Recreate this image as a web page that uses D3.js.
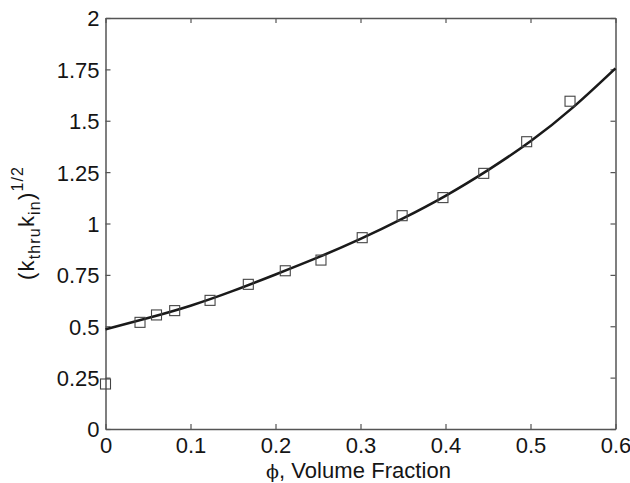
<!DOCTYPE html>
<html>
<head>
<meta charset="utf-8">
<script src="https://cdn.jsdelivr.net/npm/d3@7"></script>
<style>
  body { margin: 0; background: #fff; }
  text { font-family: "Liberation Sans", Arial, sans-serif; fill: #151515; }
</style>
</head>
<body>
<div id="chart"></div>
<script>
// measured points
const phi = [0, 0.0406, 0.060, 0.0814, 0.123, 0.168, 0.2115, 0.2535, 0.302, 0.349, 0.397, 0.445, 0.4955, 0.5465]
const kval = [0.219, 0.519, 0.555, 0.576, 0.626, 0.704, 0.770, 0.822, 0.931, 1.038, 1.126, 1.244, 1.398, 1.595]

// fitted curve
const fitX = [0, 0.05, 0.1, 0.15, 0.2, 0.25, 0.3, 0.35, 0.4, 0.45, 0.5, 0.55, 0.6]
const fitY = [0.485, 0.54, 0.60, 0.672, 0.752, 0.835, 0.925, 1.025, 1.135, 1.26, 1.40, 1.565, 1.755]

const xTicks = [0, 0.1, 0.2, 0.3, 0.4, 0.5, 0.6]
const yTicks = [0, 0.25, 0.5, 0.75, 1, 1.25, 1.5, 1.75, 2]

const width = 630
const height = 483
const margin = { left: 105.5, right: 14.5, top: 18, bottom: 54 }

const svg = d3.select("#chart").append("svg")
  .attr("width", width)
  .attr("height", height)

const x = d3.scaleLinear().domain([0, 0.6]).range([margin.left, width - margin.right])
const y = d3.scaleLinear().domain([0, 2]).range([height - margin.bottom, margin.top])

const fmt = d => d === 0 ? "0" : String(d)
const axisColor = "#555"

// bottom / left axes with labels, ticks pointing inward
const xAxis = svg.append("g")
  .attr("transform", "translate(0," + y(0) + ")")
  .call(d3.axisBottom(x).tickValues(xTicks).tickFormat(fmt).tickSizeInner(-5).tickSizeOuter(0).tickPadding(8))
const yAxis = svg.append("g")
  .attr("transform", "translate(" + x(0) + ",0)")
  .call(d3.axisLeft(y).tickValues(yTicks).tickFormat(fmt).tickSizeInner(-5).tickSizeOuter(0).tickPadding(6))
// mirrored top / right ticks
const xTop = svg.append("g")
  .attr("transform", "translate(0," + y(2) + ")")
  .call(d3.axisTop(x).tickValues(xTicks).tickFormat("").tickSizeInner(-5).tickSizeOuter(0))
const yRight = svg.append("g")
  .attr("transform", "translate(" + x(0.6) + ",0)")
  .call(d3.axisRight(y).tickValues(yTicks).tickFormat("").tickSizeInner(-5).tickSizeOuter(0))

;[xAxis, yAxis, xTop, yRight].forEach(g => {
  g.select(".domain").attr("stroke", axisColor).attr("stroke-width", 1.5)
  g.selectAll(".tick line").attr("stroke", axisColor).attr("stroke-width", 1.2)
  g.selectAll("text")
    .style("font-family", "'Liberation Sans', Arial, sans-serif")
    .style("font-size", "22px")
    .attr("fill", "#151515")
})
yAxis.selectAll("text").attr("dy", "0.36em")

// fit line
const line = d3.line()
  .x((d, i) => x(fitX[i]))
  .y(d => y(d))
  .curve(d3.curveNatural)

svg.append("path")
  .datum(fitY)
  .attr("d", line)
  .attr("fill", "none")
  .attr("stroke", "#1a1a1a")
  .attr("stroke-width", 2.6)

// square markers
const s = 10
svg.append("g")
  .selectAll("rect")
  .data(phi)
  .join("rect")
  .attr("x", d => x(d) - s / 2)
  .attr("y", (d, i) => y(kval[i]) - s / 2)
  .attr("width", s)
  .attr("height", s)
  .attr("fill", "none")
  .attr("stroke", "#444")
  .attr("stroke-width", 1.1)

// x label
const xl = svg.append("text")
  .attr("x", (x(0) + x(0.6)) / 2 - 2)
  .attr("y", 478)
  .attr("text-anchor", "middle")
  .style("font-size", "22px")
xl.append("tspan").style("font-family", "'DejaVu Serif', serif").style("font-size", "19px").text("\u03d5")
xl.append("tspan").attr("textLength", 172).attr("lengthAdjust", "spacing").text(", Volume Fraction")

// y label
const yl = svg.append("text")
  .attr("transform", "translate(34," + ((y(0) + y(2)) / 2) + ") rotate(-90)")
  .attr("text-anchor", "middle")
  .style("font-size", "22px")
  .attr("textLength", 113)
  .attr("lengthAdjust", "spacing")
yl.append("tspan").text("(k")
yl.append("tspan").attr("dy", 6).style("font-size", "16px").text("thru")
yl.append("tspan").attr("dy", -6).text("k")
yl.append("tspan").attr("dy", 6).style("font-size", "16px").text("in")
yl.append("tspan").attr("dy", -6).text(")")
yl.append("tspan").attr("dy", -11).style("font-size", "16px").text("1/2")
</script>
</body>
</html>
